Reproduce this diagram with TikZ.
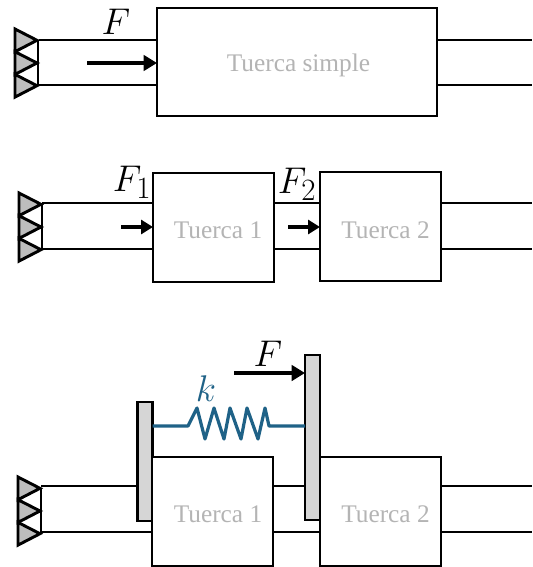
\documentclass[tikz,border=0pt]{standalone}
\usepackage{fontspec}
\setmainfont{Liberation Serif}
\usetikzlibrary{arrows.meta}
\definecolor{springblue}{HTML}{1F6287}
\definecolor{tuercagray}{HTML}{B4B4B4}
\definecolor{supportgray}{HTML}{BDBDBD}
\definecolor{plategray}{HTML}{D6D6D6}
\def\px{0.75pt}
\newcommand{\fixedsupport}[2]{%
  \begin{scope}[shift={(#1,#2)}]
    \foreach \o in {0,22.7,45.4}
      \draw[supportline,fill=supportgray] (0,\o) -- (22,\o+11.3) -- (0,\o+22.7) -- cycle;
    \draw[supportline] (23,11.3) -- (23,56.7);
  \end{scope}}
\tikzset{
  x=\px,y=-\px,
  wire/.style={line width=1.6pt,draw=black,line cap=butt},
  supportline/.style={line width=2.2pt,line join=miter,draw=black},
  nutbox/.style={draw=black,fill=white,line width=1.6pt,inner sep=0pt,outer sep=0pt},
  nuttext/.style={inner sep=0pt,text=tuercagray,font=\fontsize{19pt}{21pt}\selectfont},
  plate/.style={draw=black,fill=plategray,line width=1.6pt,inner sep=0pt,outer sep=0pt},
  force/.style={line width=2.6pt,draw=black,-{Triangle[length=10pt,width=11.5pt]}},
  smallforce/.style={line width=2.6pt,draw=black,-{Triangle[length=9pt,width=10.5pt]}},
  forcelabel/.style={inner sep=0pt,font=\fontsize{24.88pt}{27pt}\selectfont,transform shape,scale=1.12},
  spring/.style={line width=2.4pt,draw=springblue,line join=round},
}
\begin{document}
\begin{tikzpicture}
\useasboundingbox (0,0) rectangle (532,567);
\fill[white] (0,0) rectangle (532,567);

% --- Row 1
\coordinate (a1t) at (39,40);
\coordinate (a1b) at (39,85);
\coordinate (e1t) at (532,40);
\coordinate (e1b) at (532,85);
\coordinate (f1s) at (87,63);
\draw[wire] (a1t) -- (157,40);
\draw[wire] (a1b) -- (157,85);
\node[nutbox,minimum width=280*\px,minimum height=108*\px] (simple) at (297,62) {};
\node[nuttext] (tsimple) at (298.5,65.5) {Tuerca simple};
\draw[wire] (simple.east |- e1t) -- (e1t);
\draw[wire] (simple.east |- e1b) -- (e1b);
\draw[force] (f1s) -- (simple.west |- f1s);
\fixedsupport{15}{29}
\node[forcelabel] (lF) at (116,22) {$F$};

% --- Row 2
\coordinate (a2t) at (42,203);
\coordinate (a2b) at (42,249);
\coordinate (e2t) at (532,203);
\coordinate (e2b) at (532,249);
\coordinate (f2s) at (121,227);
\coordinate (f3s) at (288,227);
\node[nutbox,minimum width=121*\px,minimum height=109*\px] (n1) at (213.5,227.5) {};
\node[nutbox,minimum width=121*\px,minimum height=109*\px] (n2) at (380.5,226.5) {};
\node[nuttext] (t1) at (218,230.5) {Tuerca 1};
\node[nuttext] (t2) at (385.5,230.5) {Tuerca 2};
\draw[wire] (a2t) -- (n1.west |- a2t);
\draw[wire] (a2b) -- (n1.west |- a2b);
\draw[wire] (n1.east |- a2t) -- (n2.west |- a2t);
\draw[wire] (n1.east |- a2b) -- (n2.west |- a2b);
\draw[wire] (n2.east |- e2t) -- (e2t);
\draw[wire] (n2.east |- e2b) -- (e2b);
\draw[smallforce] (f2s) -- (n1.west |- f2s);
\draw[smallforce] (f3s) -- (n2.west |- f3s);
\fixedsupport{19}{193}
\node[forcelabel] (lF1) at (132,182) {$F_1$};
\node[forcelabel] (lF2) at (297,184) {$F_2$};

% --- Row 3
\coordinate (a3t) at (41,486);
\coordinate (a3b) at (41,532);
\coordinate (e3t) at (532,486);
\coordinate (e3b) at (532,532);
\coordinate (f4s) at (234,373);
\coordinate (ks) at (153,426);
\node[plate,minimum width=15*\px,minimum height=119*\px] (p1) at (145,461.5) {};
\node[plate,minimum width=15*\px,minimum height=165*\px] (p2) at (312.5,437.5) {};
\node[nutbox,minimum width=121*\px,minimum height=109*\px] (m1) at (212.5,511.5) {};
\node[nutbox,minimum width=121*\px,minimum height=109*\px] (m2) at (380.5,511.5) {};
\node[nuttext] (t3) at (218,514.5) {Tuerca 1};
\node[nuttext] (t4) at (385.5,514.5) {Tuerca 2};
\draw[wire] (a3t) -- (p1.west |- a3t);
\draw[wire] (a3b) -- (m1.west |- a3b);
\draw[wire] (m1.east |- a3t) -- (p2.west |- a3t);
\draw[wire] (m1.east |- a3b) -- (m2.west |- a3b);
\draw[wire] (m2.east |- e3t) -- (e3t);
\draw[wire] (m2.east |- e3b) -- (e3b);
\draw[spring] (p1.east |- ks) -- (188,426) -- (197,408) -- (205,439) -- (214,408) -- (224,439)
  -- (230,408) -- (241,439) -- (247,408) -- (258,439) -- (265,408) -- (269,426) -- (p2.west |- ks);
\draw[force] (f4s) -- (p2.west |- f4s);
\fixedsupport{18}{477}
\node[forcelabel] (lF3) at (268,354) {$F$};
\node[forcelabel,text=springblue] (lk) at (206,389) {$k$};
\end{tikzpicture}
\end{document}
